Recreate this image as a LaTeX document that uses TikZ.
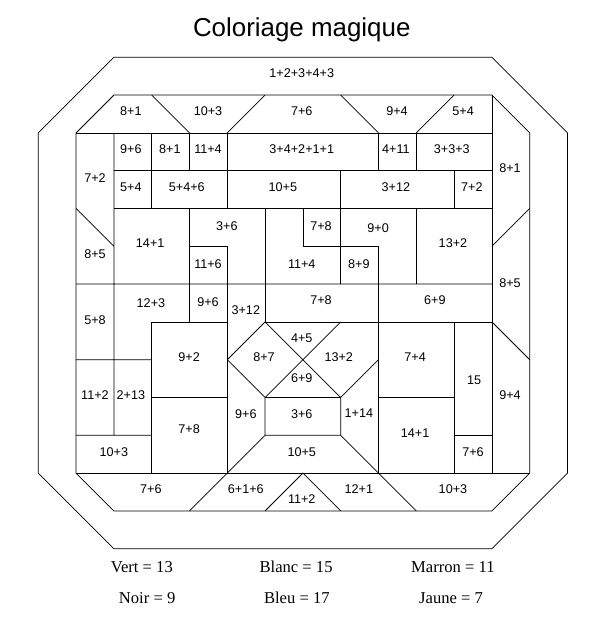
\documentclass[tikz,border=0pt]{standalone}
\usepackage{fontspec}
\setmainfont{Liberation Serif}
\setsansfont{Liberation Sans}
\usetikzlibrary{positioning}

\begin{document}
\begin{tikzpicture}[x=1cm, y=-1cm, line width=0.55pt,
    % Styles
    num/.style={font=\sffamily\fontsize{9.5}{10}\selectfont, inner sep=0pt},
    key/.style={font=\fontsize{12.5}{13}\selectfont, inner sep=0pt},
    heading/.style={font=\sffamily\fontsize{19.5}{22}\selectfont, inner sep=0pt}
]
\useasboundingbox (-1.013,-1.516) rectangle (14.992,15.23);

% Frames
\draw (2,0) -- (12,0) -- (14,2) -- (14,11) -- (12,13) -- (2,13) -- (0,11) -- (0,2) -- cycle;
\draw (2,1) -- (12,1) -- (13,2) -- (13,11) -- (12,12) -- (2,12) -- (1,11) -- (1,2) -- cycle;
\draw (1,2) -- (12,2) (1,11) -- (13,11) (12,1) -- (12,11);

% Band pieces
\draw (3,1) -- (4,2) (5,2) -- (6,1) (8,1) -- (9,2) (10,2) -- (11,1);
\draw (12,5) -- (13,4) (12,7) -- (13,8);
\draw (5,11) -- (4,12) (6,12) -- (7,11) -- (8,12) (9,11) -- (10,12);

% Upper rows
\draw (1,4) -- (2,5) (1,6) -- (12,6) (1,8) -- (3,8) (1,10) -- (3,10) (2,2) -- (2,10);
\draw (2,3) -- (12,3) (2,4) -- (12,4);
\draw (3,2) -- (3,4) (4,2) -- (4,3) (5,2) -- (5,4) (9,2) -- (9,3) (10,2) -- (10,3)
      (8,3) -- (8,6) (11,3) -- (11,4);
\draw (4,4) -- (4,6) (4,5) -- (5,5) -- (5,6) (6,4) -- (6,6) (7,4) -- (7,5) -- (9,5) -- (9,6)
      (10,4) -- (10,6);

% Lower rows
\draw (4,6) -- (4,7) (3,7) -- (5,7) (6,7) -- (12,7) (3,7) -- (3,11) (3,9) -- (5,9)
      (5,6) -- (5,11) (6,6) -- (6,7) (9,6) -- (9,11);
\draw (6,7) -- (5,8) -- (6,9) -- (8,7) (6,7) -- (8,9) -- (9,8) (6,9) -- (8,9)
      (6,9) -- (6,10) -- (8,10) -- (8,9) (6,10) -- (5,11) (8,10) -- (9,11);
\draw (9,9) -- (11,9) (11,7) -- (11,11) (11,10) -- (12,10);

% Title
\node[heading] (title) at (6.97,-0.72) {Coloriage magique};

% Sums
\node[num] (s1) at (6.97,0.42) {1+2+3+4+3};
\node[num] (s2) at (2.45,1.42) {8+1};
\node[num] (s3) at (4.49,1.42) {10+3};
\node[num] (s4) at (6.97,1.42) {7+6};
\node[num] (s5) at (9.49,1.42) {9+4};
\node[num] (s6) at (11.24,1.42) {5+4};
\node[num] (s7) at (2.45,2.43) {9+6};
\node[num] (s8) at (3.48,2.43) {8+1};
\node[num] (s9) at (4.49,2.43) {11+4};
\node[num] (s10) at (6.97,2.43) {3+4+2+1+1};
\node[num] (s11) at (9.46,2.43) {4+11};
\node[num] (s12) at (10.94,2.43) {3+3+3};
\node[num] (s13) at (1.5,3.2) {7+2};
\node[num] (s14) at (12.48,2.93) {8+1};
\node[num] (s15) at (2.45,3.43) {5+4};
\node[num] (s16) at (3.93,3.43) {5+4+6};
\node[num] (s17) at (6.47,3.43) {10+5};
\node[num] (s18) at (9.46,3.43) {3+12};
\node[num] (s19) at (11.47,3.43) {7+2};
\node[num] (s20) at (4.99,4.46) {3+6};
\node[num] (s21) at (7.48,4.46) {7+8};
\node[num] (s22) at (8.99,4.52) {9+0};
\node[num] (s23) at (2.96,4.91) {14+1};
\node[num] (s24) at (10.97,4.91) {13+2};
\node[num] (s25) at (1.5,5.2) {8+5};
\node[num] (s26) at (4.49,5.47) {11+6};
\node[num] (s27) at (6.97,5.47) {11+4};
\node[num] (s28) at (8.48,5.47) {8+9};
\node[num] (s29) at (12.48,5.97) {8+5};
\node[num] (s30) at (2.98,6.5) {12+3};
\node[num] (s31) at (4.49,6.47) {9+6};
\node[num] (s32) at (5.49,6.68) {3+12};
\node[num] (s33) at (7.48,6.42) {7+8};
\node[num] (s34) at (10.49,6.42) {6+9};
\node[num] (s35) at (1.5,6.95) {5+8};
\node[num] (s36) at (6.97,7.42) {4+5};
\node[num] (s37) at (5.97,7.93) {8+7};
\node[num] (s38) at (7.95,7.93) {13+2};
\node[num] (s39) at (3.99,7.93) {9+2};
\node[num] (s40) at (9.97,7.93) {7+4};
\node[num] (s41) at (6.97,8.48) {6+9};
\node[num] (s42) at (11.53,8.54) {15};
\node[num] (s43) at (1.5,8.93) {11+2};
\node[num] (s44) at (2.45,8.93) {2+13};
\node[num] (s45) at (12.48,8.93) {9+4};
\node[num] (s46) at (5.49,9.44) {9+6};
\node[num] (s47) at (6.97,9.44) {3+6};
\node[num] (s48) at (8.48,9.41) {1+14};
\node[num] (s49) at (3.99,9.83) {7+8};
\node[num] (s50) at (9.97,9.94) {14+1};
\node[num] (s51) at (2.0,10.44) {10+3};
\node[num] (s52) at (6.97,10.44) {10+5};
\node[num] (s53) at (11.5,10.44) {7+6};
\node[num] (s54) at (2.98,11.42) {7+6};
\node[num] (s55) at (5.49,11.42) {6+1+6};
\node[num] (s56) at (8.48,11.42) {12+1};
\node[num] (s57) at (10.97,11.42) {10+3};
\node[num] (s58) at (6.97,11.69) {11+2};

% Colour key
\node[key] (vert) at (2.74,13.48) {Vert = 13};
\node[key] (blanc) at (6.82,13.48) {Blanc = 15};
\node[key] (marron) at (10.97,13.48) {Marron = 11};
\node[key] (noir) at (2.88,14.3) {Noir = 9};
\node[key] (bleu) at (6.84,14.3) {Bleu = 17};
\node[key] (jaune) at (10.92,14.3) {Jaune = 7};

\end{tikzpicture}
\end{document}
